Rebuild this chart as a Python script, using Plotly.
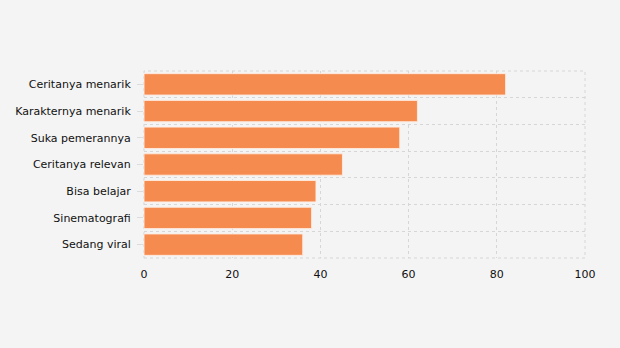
import plotly.graph_objects as go

categories = ["Ceritanya menarik", "Karakternya menarik", "Suka pemerannya",
              "Ceritanya relevan", "Bisa belajar", "Sinematografi", "Sedang viral"]
values = [82, 62, 58, 45, 39, 38, 36]
x_ticks = [0, 20, 40, 60, 80, 100]

n = len(categories)
ypos = [n - 1 - i for i in range(n)]

fig = go.Figure(go.Bar(
    x=values, y=ypos, orientation="h",
    width=0.8,
    marker=dict(color="#f58b4f", line=dict(color="rgba(255,235,225,0.9)", width=1)),
    hoverinfo="x+text", text=categories, textposition="none",
))

grid = "#d6d6d6"
fig.update_layout(
    width=620, height=348,
    margin=dict(l=144, r=35, t=71, b=90),
    paper_bgcolor="#f4f4f4", plot_bgcolor="#f4f4f4",
    font=dict(family="DejaVu Sans", size=11, color="#111"),
    showlegend=False,
    xaxis=dict(range=[0, 100], tickvals=x_ticks, showgrid=True, gridcolor=grid,
               griddash="dot", gridwidth=1, zeroline=False, showline=False,
               ticks="", ticklabelstandoff=8, fixedrange=True),
    yaxis=dict(range=[-0.5, n - 0.5], tickvals=ypos, ticktext=categories,
               showgrid=False, zeroline=False, showline=False,
               ticks="outside", ticklen=6, tickcolor="#dcdcdc", ticklabelstandoff=4,
               minor=dict(tickvals=[i - 0.5 for i in range(n + 1)], showgrid=True,
                          gridcolor=grid, griddash="dot", gridwidth=1, ticks=""),
               fixedrange=True),
    shapes=[dict(type="rect", xref="paper", yref="paper", x0=0, x1=1, y0=0, y1=1,
                 line=dict(color=grid, width=1, dash="dot"), layer="below")],
)

fig.write_html("out.html")
